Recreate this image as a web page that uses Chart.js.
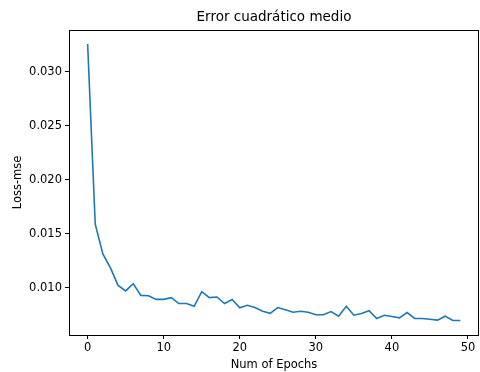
<!DOCTYPE html>
<html>
<head>
<meta charset="utf-8">
<script src="https://cdn.jsdelivr.net/npm/chart.js@4"></script>
<style>
  html, body { margin: 0; padding: 0; background: #fff; }
  #wrap { width: 480px; height: 372px; }
</style>
</head>
<body>
<div id="wrap"><canvas id="myChart" width="480" height="372"></canvas></div>
<script>
// values
var epochs = [];
for (var e = 0; e < 50; e++) epochs.push(e);
var lossMse = [
  0.0326, 0.01589, 0.01313, 0.01184, 0.01021, 0.0097, 0.01037, 0.00929, 0.00926, 0.00892,
  0.00892, 0.00908, 0.00853, 0.00853, 0.00828, 0.00963, 0.00908, 0.00914, 0.00853, 0.0089,
  0.00813, 0.00837, 0.00816, 0.00782, 0.00762, 0.00816, 0.00795, 0.00773, 0.00782, 0.00773,
  0.00749, 0.00749, 0.00779, 0.00736, 0.00828, 0.00745, 0.00761, 0.00786, 0.00715, 0.00745,
  0.00733, 0.00721, 0.0077, 0.00715, 0.00715, 0.00708, 0.00699, 0.00736, 0.00696, 0.00696
];
var xTicks = [0, 10, 20, 30, 40, 50];
var yTicks = [0.010, 0.015, 0.020, 0.025, 0.030];
var chartTitle = 'Error cuadrático medio';

const FONT = 'DejaVu Sans';

// matplotlib-like frame and title
const framePlugin = {
  id: 'frame',
  afterDraw(chart) {
    const a = chart.chartArea;
    const ctx = chart.ctx;
    ctx.save();
    ctx.strokeStyle = '#000';
    ctx.lineWidth = 1;
    ctx.strokeRect(a.left + 0.5, a.top + 0.5, a.right - a.left - 1, a.bottom - a.top);
    ctx.fillStyle = '#000';
    ctx.font = '13.5px "' + FONT + '"';
    ctx.textAlign = 'center';
    ctx.textBaseline = 'middle';
    ctx.fillText(chartTitle, (a.left + a.right) / 2, 17.5);
    ctx.restore();
  }
};

const ctx = document.getElementById('myChart');
var myChart = new Chart(ctx, {
  type: 'line',
  data: {
    labels: epochs,
    datasets: [{
      data: epochs.map((x, i) => ({ x: x, y: lossMse[i] })),
      borderColor: '#1f77b4',
      borderWidth: 1.6,
      pointRadius: 0,
      tension: 0,
      fill: false
    }]
  },
  options: {
    responsive: false,
    animation: false,
    layout: { padding: { top: 30, right: 1, left: 0, bottom: 0 } },
    plugins: { legend: { display: false }, tooltip: { enabled: false } },
    scales: {
      x: {
        type: 'linear',
        min: -2.45,
        max: 51.45,
        afterBuildTicks: s => { s.ticks = xTicks.map(v => ({ value: v })); },
        afterFit: s => { s.height = 37; },
        grid: { drawOnChartArea: false, drawTicks: true, tickLength: 4, color: '#000' },
        border: { display: false },
        ticks: { color: '#000', padding: 2, maxRotation: 0, font: { family: FONT, size: 11.5 } },
        title: { display: true, text: 'Num of Epochs', color: '#000', padding: { top: 0, bottom: 0 }, font: { family: FONT, size: 11.5 } }
      },
      y: {
        min: 0.005615,
        max: 0.03389,
        afterBuildTicks: s => { s.ticks = yTicks.map(v => ({ value: v })); },
        afterFit: s => { s.width = 69; },
        grid: { drawOnChartArea: false, drawTicks: true, tickLength: 4, color: '#000' },
        border: { display: false },
        ticks: { color: '#000', padding: 3, callback: v => v.toFixed(3), font: { family: FONT, size: 11.5 } },
        title: { display: true, text: 'Loss-mse', color: '#000', padding: { top: 11.5, bottom: 0 }, font: { family: FONT, size: 11.5 } }
      }
    }
  },
  plugins: [framePlugin]
});
</script>
</body>
</html>
